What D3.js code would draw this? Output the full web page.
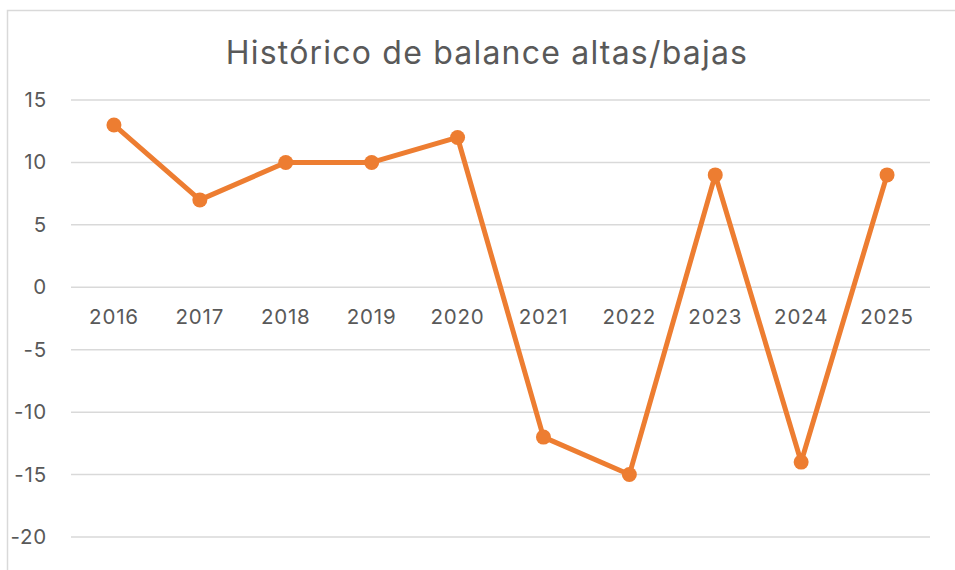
<!DOCTYPE html>
<html><head><meta charset="utf-8">
<script src="https://cdn.jsdelivr.net/npm/d3@7"></script>
<style>body{margin:0;background:#fff;} svg{display:block;font-family:Inter,"Liberation Sans",sans-serif;}</style>
</head><body>
<svg id="c" width="955" height="570"></svg>
<script>
const years = ["2016","2017","2018","2019","2020","2021","2022","2023","2024","2025"];
const balance = [13, 7, 10, 10, 12, -12, -15, 9, -14, 9];
const yTicks = [15, 10, 5, 0, -5, -10, -15, -20];
const title = "Histórico de balance altas/bajas";

(function(){
const svg = d3.select("#c");
const W = 955, H = 570;
const FONT = "Inter,'Liberation Sans',sans-serif";
svg.append("rect").attr("x",0).attr("y",0).attr("width",W).attr("height",H).attr("fill","#fff");
svg.append("rect").attr("x",7.5).attr("y",10.5).attr("width",W+20).attr("height",H+20)
  .attr("fill","none").attr("stroke","#d9d9d9").attr("stroke-width",1.5);

const mLeft = 71, mRight = 930, mTop = 100, mBottom = 537;
const x = d3.scaleBand().domain(years).range([mLeft, mRight]);
const y = d3.scaleLinear().domain([-20, 15]).range([mBottom, mTop]);

svg.append("text").attr("x", 487).attr("y", 64).attr("text-anchor","middle")
  .attr("font-size", 32).attr("letter-spacing", 1.2)
  .attr("fill","#595959").attr("font-family",FONT).text(title);

const grid = svg.append("g");
grid.selectAll("line").data(yTicks).join("line")
  .attr("x1", mLeft).attr("x2", mRight)
  .attr("y1", d => y(d)).attr("y2", d => y(d))
  .attr("stroke","#d9d9d9").attr("stroke-width",1.5);

const yAxis = svg.append("g").attr("transform", `translate(${mLeft},0)`)
  .call(d3.axisLeft(y).tickValues(yTicks).tickSize(0).tickPadding(24).tickFormat(d => String(d)));
yAxis.select(".domain").remove();
yAxis.selectAll("text").attr("font-size",20.5).attr("letter-spacing",0.8)
  .attr("fill","#595959").attr("font-family",FONT);

const xAxis = svg.append("g").attr("transform", `translate(0,${y(0)})`)
  .call(d3.axisBottom(x).tickSize(0).tickPadding(22));
xAxis.select(".domain").remove();
xAxis.selectAll("text").attr("font-size",20.5).attr("letter-spacing",0.8)
  .attr("fill","#595959").attr("font-family",FONT);

const cx = d => x(d) + x.bandwidth()/2;
const line = d3.line().x((d,i) => cx(years[i])).y(d => y(d));
svg.append("path").datum(balance).attr("d", line)
  .attr("fill","none").attr("stroke","#ED7D31").attr("stroke-width",5)
  .attr("stroke-linejoin","round");
svg.selectAll("circle.pt").data(balance).join("circle").attr("class","pt")
  .attr("cx", (d,i) => cx(years[i])).attr("cy", d => y(d)).attr("r", 7.5)
  .attr("fill","#ED7D31");
})();
</script>
</body></html>
